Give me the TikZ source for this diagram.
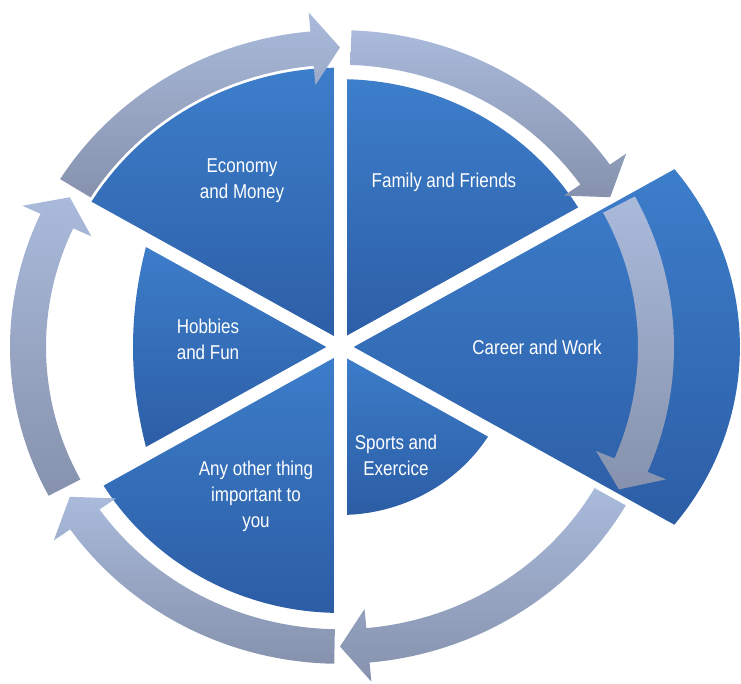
\documentclass[tikz,border=0pt]{standalone}
\usepackage{fontspec}
\setmainfont[FakeStretch=0.85]{Liberation Sans}
\definecolor{secTop}{HTML}{3D7ECB}
\definecolor{secBot}{HTML}{2C5DA5}
\definecolor{ringL}{HTML}{AABADB}
\definecolor{ringD}{HTML}{8692AD}

% one curved arrow of the outer ring, running clockwise
% #1 tail angle, #2 tip angle, #3 mid radius
\newcommand\ringseg[3]{%
  \pgfmathsetmacro\backang{#2+28/#3*57.3}%
  \path[ringarrow]
    (#1:#3+18) arc[start angle=#1, end angle=\backang, radius=#3+18]
    -- (\backang:#3+38) -- (#2:#3) -- (\backang:#3-38)
    -- (\backang:#3-18) arc[start angle=\backang, end angle=#1, radius=#3-18]
    -- cycle;}

\begin{document}
\begin{tikzpicture}[x=1pt,y=1pt,
  sector/.style={top color=secTop, bottom color=secBot, draw=none},
  ringarrow/.style={top color=ringL, bottom color=ringD, draw=none},
  gapline/.style={white, line width=13pt},
  seclabel/.style={text=white, font=\fontsize{20}{26}\selectfont,
    align=center, inner sep=0pt}]
\useasboundingbox (-340,-337) rectangle (401,347);

\begin{scope}[yscale=0.96]
  % the six sectors
  \path[sector] (0,0) -- (90:291) arc[start angle=90, end angle=150, radius=291] -- cycle;
  \path[sector] (0,0) -- (30:279) arc[start angle=30, end angle=90, radius=279] -- cycle;
  \path[sector] (0,0) -- (30:381.1) arc[start angle=40.3, end angle=-40.3, radius=294.4] -- cycle;
  \path[sector] (0,0) -- (270:175) arc[start angle=270, end angle=330, radius=175] -- cycle;
  \path[sector] (0,0) -- (210:277) arc[start angle=210, end angle=270, radius=277] -- cycle;
  \path[sector] (0,0) -- (150:222) .. controls (-211.9,37) and (-211.9,-37) .. (210:222) -- cycle;

  % white gaps between the sectors
  \foreach \a/\len in {90/300, 30/405, -30/405, -90/300, -150/300, 150/300}
    \draw[gapline] (0,0) -- (\a:\len);

  % the ring of arrows
  \ringseg{148}{90}{312}
  \ringseg{88}{30}{312}
  \ringseg{28}{-28}{316}
  \ringseg{330}{270}{312}
  \ringseg{269}{210}{312}
  \ringseg{208}{150}{312}
\end{scope}

\node[seclabel] (economy) at (-98,166) {Economy\\and Money};
\node[seclabel] (family)  at (104,165) {Family and Friends};
\node[seclabel] (career)  at (197,0)   {Career and Work};
\node[seclabel] (hobbies) at (-132,8)  {Hobbies\\and Fun};
\node[seclabel] (sports)  at (56,-108) {Sports and\\Exercice};
\node[seclabel] (other)   at (-84,-149) {Any other thing\\important to\\you};
\end{tikzpicture}
\end{document}
